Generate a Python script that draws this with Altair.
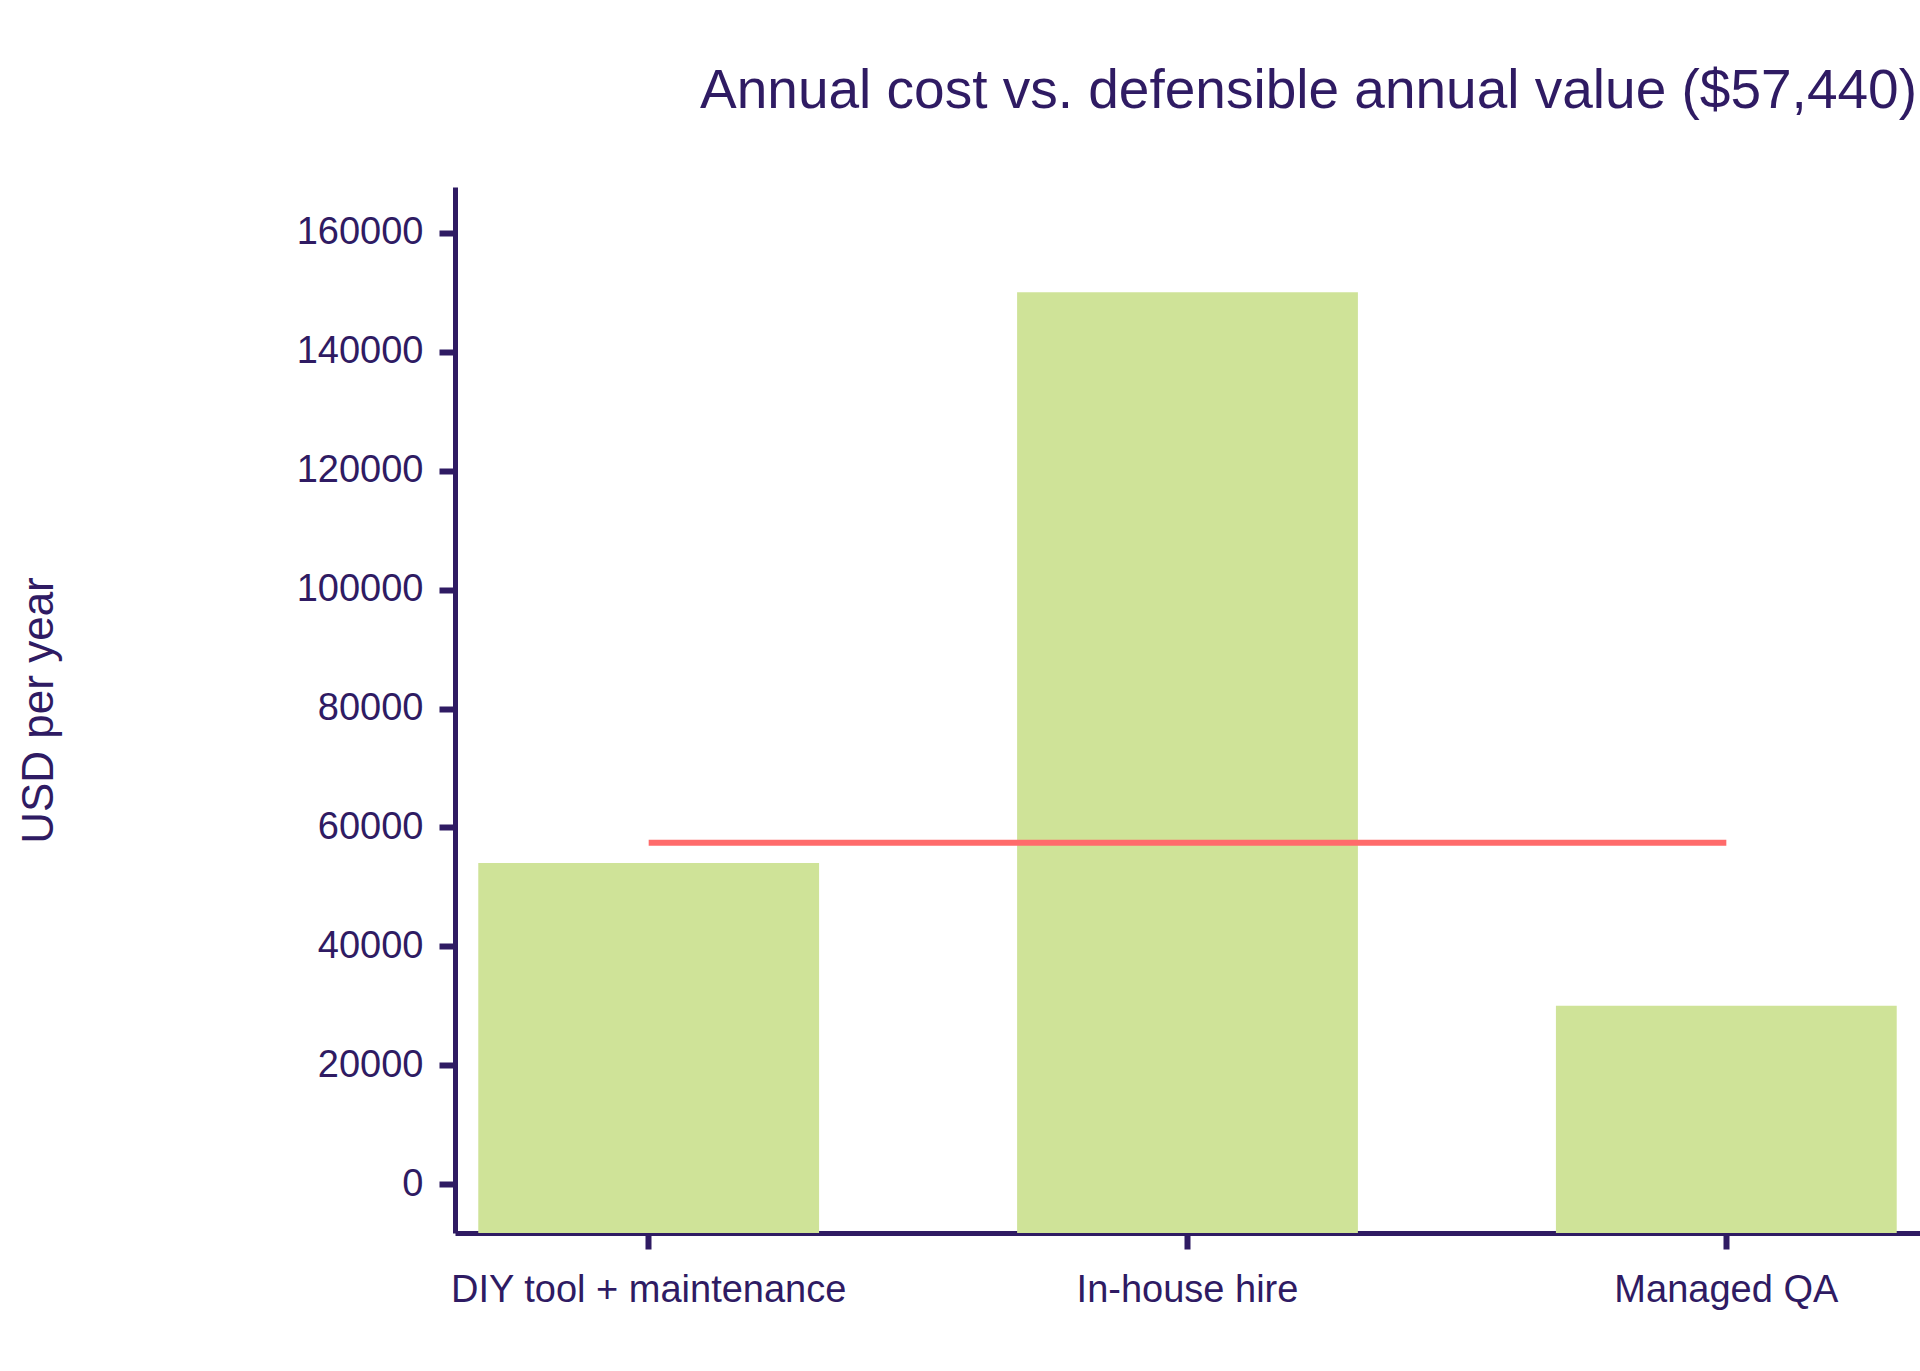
import altair as alt
import pandas as pd

categories = ["DIY tool + maintenance", "In-house hire", "Managed QA"]
costs = [54000, 150000, 30000]
defensible_value = 57440
y_ticks = [0, 20000, 40000, 60000, 80000, 100000, 120000, 140000, 160000]
Y_MIN, Y_MAX = -8225, 167725

TEXT = "#2f1b63"
BAR = "#cfe398"
RED = "#ff6b6b"
FONT = "Liberation Sans"

df = pd.DataFrame({
    "option": categories,
    "cost": costs,
    "value": [defensible_value] * len(categories),
})

x_enc = alt.X(
    "option:N",
    sort=categories,
    scale=alt.Scale(paddingInner=0.3675, paddingOuter=0.0432),
    axis=alt.Axis(title=None, labelAngle=0, labelPadding=22, labelFontSize=38, labelLimit=0),
)
y_scale = alt.Scale(domain=[Y_MIN, Y_MAX], nice=False, zero=False)

bars = alt.Chart(df).mark_bar(color=BAR).encode(
    x=x_enc,
    y=alt.Y(
        "cost:Q",
        scale=y_scale,
        axis=alt.Axis(
            title="USD per year",
            values=y_ticks,
            format="d",
            labelPadding=16,
            labelFontSize=38,
            titleFontSize=44,
            titleFontWeight="normal",
            titleX=-416,
            titleY=523,
            titleAngle=270,
            titleAlign="center",
            titleBaseline="middle",
        ),
    ),
    y2=alt.datum(Y_MIN),
)

line = alt.Chart(df).mark_line(color=RED, strokeWidth=6).encode(
    x=alt.X("option:N", sort=categories),
    y=alt.Y("value:Q", scale=y_scale),
)

chart = (
    alt.layer(bars, line)
    .properties(
        width=1465,
        height=1046,
        autosize=alt.AutoSizeParams(type="none"),
        padding={"left": 455, "top": 187, "right": 0, "bottom": 138},
        background="white",
        title=alt.TitleParams(
            "Annual cost vs. defensible annual value ($57,440)",
            anchor="middle",
            dx=121,
            fontSize=55,
            fontWeight="normal",
            color=TEXT,
            font=FONT,
            baseline="alphabetic",
            offset=24,
        ),
    )
    .configure_view(stroke=None)
    .configure_axis(
        grid=False,
        domainColor=TEXT,
        domainWidth=5,
        tickColor=TEXT,
        tickWidth=6,
        tickSize=16,
        labelColor=TEXT,
        titleColor=TEXT,
        labelFont=FONT,
        titleFont=FONT,
    )
)

chart.save("out.html", embed_options={"renderer": "svg", "actions": False})
